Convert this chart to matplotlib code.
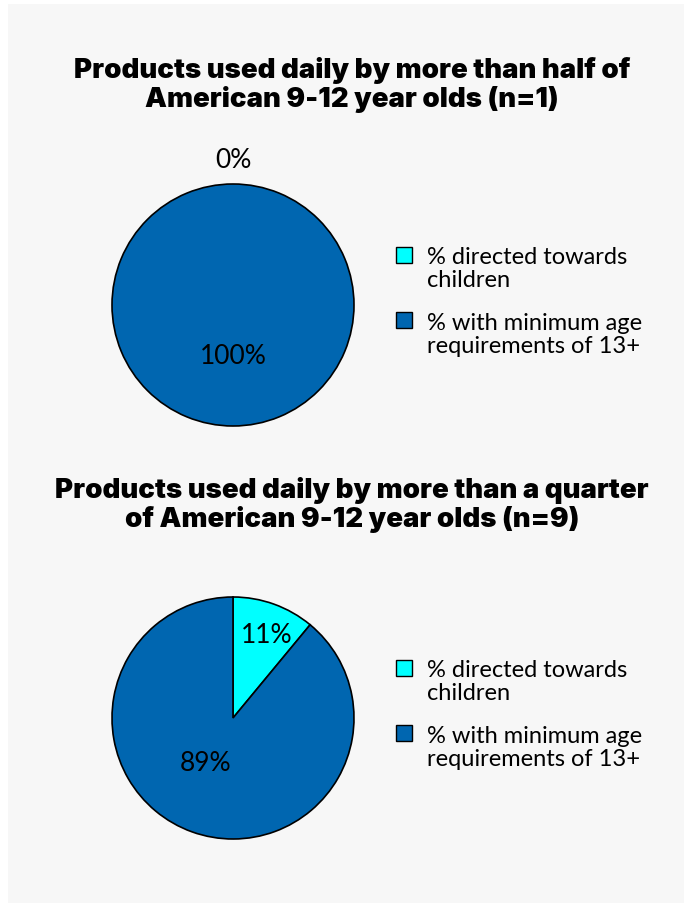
import numpy as np
import matplotlib.pyplot as plt
from matplotlib.patches import Rectangle, Patch
from matplotlib.legend_handler import HandlerPatch

titles = ["Products used daily by more than half of\nAmerican 9-12 year olds (n=1)",
          "Products used daily by more than a quarter\nof American 9-12 year olds (n=9)"]
labels = ["% directed towards\nchildren", "% with minimum age\nrequirements of 13+"]
values_top = [0, 100]
values_bottom = [11, 89]
colors = ["#00ffff", "#0066b0"]

W, H = 686, 904
fig = plt.figure(figsize=(W / 100, H / 100), dpi=100)
fig.patch.set_facecolor("white")
fig.add_artist(Rectangle((8 / W, 0), (684 - 8) / W, (H - 5) / H,
                         transform=fig.transFigure, facecolor="#f7f7f7",
                         edgecolor="none", zorder=0))


def top_square(legend, orig_handle, xdescent, ydescent, width, height, fontsize):
    # keep the square next to the first line of a two-line label
    return Rectangle((-xdescent, -ydescent + 0.58 * fontsize), width, height)


def draw(values, title, cy, ty):
    r = 121
    ax = fig.add_axes([(233 - r) / W, 1 - (cy + r) / H, 2 * r / W, 2 * r / H])
    wedges, _ = ax.pie(values, colors=colors, startangle=90, counterclock=False,
                       wedgeprops=dict(edgecolor="black", linewidth=1.2))
    ax.set_xlim(-1, 1)
    ax.set_ylim(-1, 1)
    ax.set_aspect("equal")
    for w, v in zip(wedges, values):
        mid = np.deg2rad((w.theta1 + w.theta2) / 2)
        if v == 0:
            d, off = 1.2, 0
        elif v < 50:
            d, off = 0.74, -2
        elif v < 100:
            d, off = 0.43, -12
        else:
            d, off = 0.42, 0
        a = mid + np.deg2rad(off)
        ax.text(d * np.cos(a), d * np.sin(a), f"{v}%", ha="center", va="center",
                fontsize=19, family="Lato", clip_on=False)
    fig.text(352 / W, 1 - ty / H, title, ha="center", va="center",
             fontsize=19.9, family=["Inter", "Lato"], fontweight="black", linespacing=1.12)
    handles = [Patch(facecolor=c, edgecolor="black", linewidth=1) for c in colors]
    leg = fig.legend(handles, labels, loc="upper left",
                     bbox_to_anchor=(375 / W, 1 - (cy - 80) / H), frameon=False,
                     prop=dict(family="Lato", size=17), handlelength=0.68,
                     handleheight=0.68, handletextpad=0.64, labelspacing=0.9,
                     handler_map={Patch: HandlerPatch(patch_func=top_square)})
    for t in leg.get_texts():
        t.set_linespacing(1.12)


draw(values_top, titles[0], 306, 85)
draw(values_bottom, titles[1], 719, 505)

fig.savefig("out.png", dpi=100)
